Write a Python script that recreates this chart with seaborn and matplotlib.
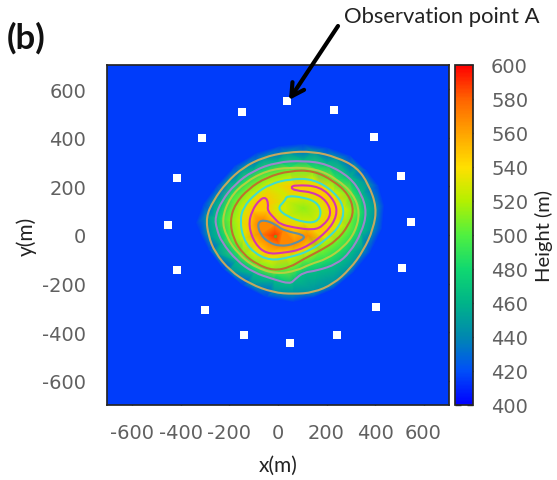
import numpy as np
import matplotlib
matplotlib.use("Agg")
import matplotlib.pyplot as plt
import matplotlib.tri as mtri
from matplotlib.colors import LinearSegmentedColormap
from matplotlib.path import Path
from matplotlib.patches import PathPatch, FancyArrowPatch
import seaborn as sns

# height rings: (x, y) in metres
edge_ring = [(-338,49),(-308,128),(-253,203),(-177,286),(-88,338),(8,366),(105,375),(201,361),(297,327),(366,265),(414,203),(437,121),(428,25),(380,-72),(311,-154),(228,-223),(146,-257),(63,-275),(-47,-257),(-143,-209),(-225,-140),(-287,-58),(-322,11)]
tan_ring = [(-297,73),(-267,141),(-212,217),(-143,279),(-60,320),(36,341),(146,344),(242,320),(325,279),(373,210),(407,114),(393,25),(352,-65),(297,-140),(228,-202),(146,-237),(63,-243),(-19,-237),(-115,-202),(-198,-147),(-260,-72),(-287,-3)]
purple_ring = [(-260,73),(-232,141),(-177,210),(-102,265),(-5,300),(105,306),(201,293),(297,238),(345,169),(366,93),(345,11),(297,-72),(242,-120),(160,-147),(105,-154),(70,-182),(50,-202),(-19,-182),(-102,-154),(-170,-106),(-232,-30),(-253,25)]
lime_ring = [(-232,66),(-198,155),(-136,217),(-47,265),(50,279),(160,272),(242,231),(311,169),(338,93),(318,11),(270,-51),(201,-99),(132,-120),(77,-147),(-5,-161),(-95,-133),(-163,-79),(-212,-10)]
brown_ring = [(-198,59),(-177,128),(-122,190),(-47,238),(50,265),(146,265),(228,224),(290,169),(314,100),(290,38),(242,-23),(173,-65),(105,-99),(50,-133),(-19,-147),(-88,-120),(-143,-79),(-184,-17)]
cyan_ring = [(-157,59),(-143,114),(-95,169),(-33,210),(50,231),(146,231),(235,176),(276,107),(256,38),(201,-17),(132,-65),(50,-92),(-33,-106),(-102,-72),(-143,-17)]
magenta_ring = [(-122,38),(-108,100),(-74,148),(-49,155),(-40,128),(-44,100),(-12,66),(8,45),(63,31),(146,20),(187,38),(221,86),(201,141),(146,176),(70,183),(52,196),(70,206),(173,201),(235,141),(245,80),(201,11),(105,-58),(22,-74),(-47,-78),(-95,-37)]
hole_ring = [(-3,110),(29,141),(36,162),(105,155),(160,135),(180,93),(160,52),(105,52),(36,77)]
peak_ring = [(-85,49),(-60,63),(-12,45),(22,18),(125,-3),(70,-37),(8,-47),(-40,-30),(-74,4)]

rings = [
    (edge_ring, 415, None),
    (tan_ring, 445, "#c4a860"),
    (purple_ring, 465, "#9c86cc"),
    (lime_ring, 487, "#b4d040"),
    (brown_ring, 508, "#c0702a"),
    (cyan_ring, 528, "#3fdccc"),
    (magenta_ring, 548, "#d435b0"),
    (hole_ring, 528, "#3fdccc"),
    (peak_ring, 568, "#5f8fa5"),
]

# single readings: plain surroundings, hollow centre, summit
spot_x = [-705, 705, -705, 705, 105, -12]
spot_y = [-700, -700, 700, 700, 110, -3]
spot_h = [415, 415, 415, 415, 512, 590]

# observation points
obs_x = [37, 231, 396, 507, 548, 511, 404, 243, 49, -140, -301, -416, -454, -416, -313, -148]
obs_y = [553, 515, 404, 243, 54, -136, -297, -412, -445, -412, -309, -144, 41, 235, 400, 507]

color_stops = ["#0000ff", "#0050f8", "#0088b0", "#00b488", "#10d870", "#50f040",
               "#b4f000", "#ffe000", "#ffa400", "#ff6400", "#ff0000"]
tick_vals = [-600, -400, -200, 0, 200, 400, 600]
bar_ticks = list(range(400, 601, 20))


def smooth_ring(pts):
    # closed quadratic bezier with the readings as control points
    pts = np.array(pts, dtype=float)
    mids = (pts + np.roll(pts, -1, axis=0)) / 2
    verts = [mids[-1]]
    codes = [Path.MOVETO]
    for p, m in zip(pts, mids):
        verts += [p, m]
        codes += [Path.CURVE3, Path.CURVE3]
    return Path(verts, codes)


sns.set_theme(style="ticks")
plt.rcParams["font.family"] = ["DejaVu Sans"]
plt.rcParams["axes.unicode_minus"] = False

W, H = 557, 481
fig = plt.figure(figsize=(W / 100, H / 100), dpi=100)
ax = fig.add_axes([107 / W, 1 - 406 / H, 342 / W, 340 / H])
cax = fig.add_axes([455 / W, 1 - 406 / H, 18 / W, 340 / H])

xs, ys, hs = list(spot_x), list(spot_y), list(spot_h)
for pts, level, _ in rings:
    for px, py in pts:
        xs.append(px)
        ys.append(py)
        hs.append(level)

cmap = LinearSegmentedColormap.from_list("height", color_stops)
tri = mtri.Triangulation(xs, ys)
mesh = ax.tripcolor(tri, hs, shading="gouraud", cmap=cmap, vmin=400, vmax=600)

for pts, level, col in rings:
    if col is None:
        continue
    ax.add_patch(PathPatch(smooth_ring(pts), fill=False, edgecolor=col, lw=1.5, zorder=3))

sns.scatterplot(x=obs_x, y=obs_y, marker="s", s=30, color="white", linewidth=0, ax=ax, zorder=5)
sns.scatterplot(x=spot_x[-1:], y=spot_y[-1:], marker="o", s=6, color="#70a020", linewidth=0, ax=ax, zorder=5)

ax.set_xlim(-705, 705)
ax.set_ylim(-700, 700)
ax.set_xticks(tick_vals)
ax.set_yticks(tick_vals)
ax.tick_params(direction="in", top=True, right=True, length=5, width=1, color="black",
               labelsize=14, labelcolor="#606060", pad=8)
ax.tick_params(axis="y", pad=15)
ax.tick_params(axis="x", pad=13)
ax.set_xlabel("x(m)", fontsize=15, family="Lato", color="#222222", labelpad=9)
ax.set_ylabel("y(m)", fontsize=15, family="Lato", color="#222222", labelpad=4)

cb = fig.colorbar(mesh, cax=cax)
cb.set_ticks(bar_ticks)
cax.tick_params(direction="in", left=True, right=True, length=4, width=1, color="#333333",
                labelsize=14, labelcolor="#606060", pad=13)
cb.set_label("Height (m)", fontsize=14.5, family="Lato", color="#222222", labelpad=5)

fig.text(344 / W, 1 - 17 / H, "Observation point A", fontsize=15.8, family="Lato", color="#222222", va="center")
fig.text(7 / W, 1 - 38 / H, "(b)", fontsize=25, family="Lato", weight="bold", color="#111111", va="center")
fig.add_artist(FancyArrowPatch(
    (338 / W, 1 - 27 / H), (289 / W, 1 - 101 / H), transform=fig.transFigure,
    arrowstyle="->,head_length=9,head_width=5", lw=3, color="black", shrinkA=0, shrinkB=0))

fig.savefig("out.png", dpi=100)
